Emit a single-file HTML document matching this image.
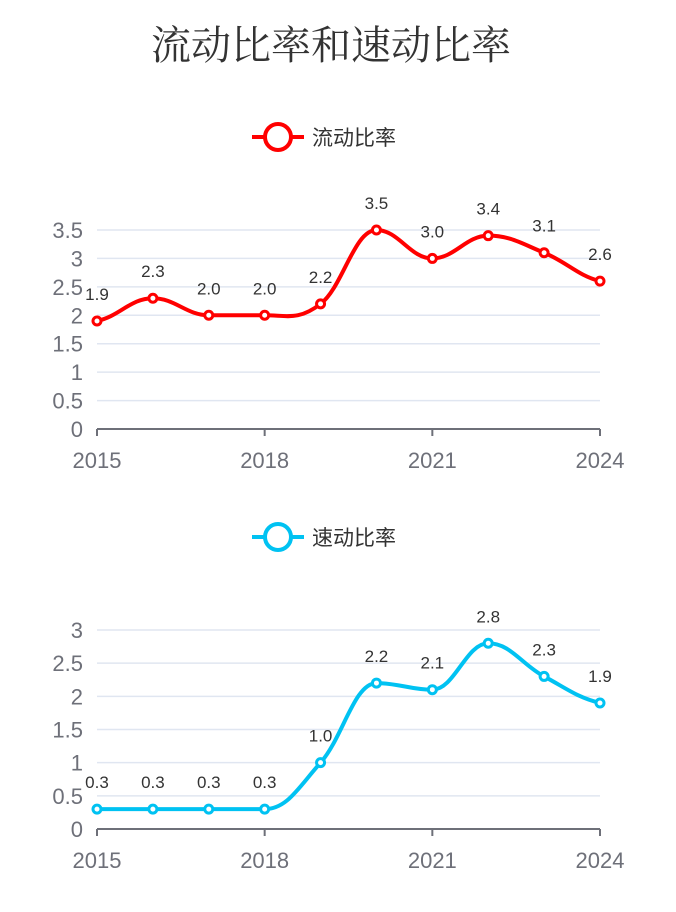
<!DOCTYPE html>
<html><head><meta charset="utf-8"><style>
html,body{margin:0;padding:0;background:#fff;width:676px;height:912px;overflow:hidden}
svg text{font-family:"Liberation Sans","Noto Sans CJK SC",sans-serif}
</style></head><body>
<svg id="c" width="676" height="912" xmlns="http://www.w3.org/2000/svg">
<text x="331" y="59" text-anchor="middle" font-size="40" fill="#333" style="font-family:'Liberation Serif','Noto Serif CJK SC',serif">流动比率和速动比率</text>
</svg>
<script>
const years = [2015,2016,2017,2018,2019,2020,2021,2022,2023,2024];
const currentRatio = [1.9,2.3,2.0,2.0,2.2,3.5,3.0,3.4,3.1,2.6];
const quickRatio = [0.3,0.3,0.3,0.3,1.0,2.2,2.1,2.8,2.3,1.9];
const currentTicks = [0,0.5,1,1.5,2,2.5,3,3.5];
const quickTicks = [0,0.5,1,1.5,2,2.5,3];
const xTickLabels = [2015,2018,2021,2024];

const svg = document.getElementById('c');
const NS = 'http://www.w3.org/2000/svg';
function mk(tag, attrs, parent){
  const e = document.createElementNS(NS, tag);
  for (const k in attrs) e.setAttribute(k, attrs[k]);
  (parent||svg).appendChild(e);
  return e;
}
function panel(opt){
  const g = mk('g', {});
  
  
  const x0=97, x1=600;
  const xs = i => x0 + (x1-x0)*i/(years.length-1);
  const ys = v => opt.y0 - (opt.y0-opt.yTop)*v/opt.max;
  const lg = mk('g', {}, g);
  
  
  mk('line', {x1:252,y1:opt.legY,x2:304,y2:opt.legY,stroke:opt.color,'stroke-width':4}, lg);
  mk('circle', {cx:278,cy:opt.legY,r:13,fill:'#fff',stroke:opt.color,'stroke-width':4}, lg);
  const lt = mk('text', {x:312,y:opt.legY+8,'font-size':21,fill:'#333'}, lg);
  lt.textContent = opt.label;
  opt.ticks.forEach(t=>{
    const y = ys(t);
    if (t>0) {
      const gl = mk('line', {x1:x0,y1:y,x2:x1,y2:y,stroke:'#e0e6f1','stroke-width':1.5}, g);
      
      
    }
    const tx = mk('text', {x:83,y:y+8,'text-anchor':'end','font-size':22,fill:'#6e7079'}, g);
    
    
    tx.textContent = t;
  });
  const ax = mk('line', {x1:x0,y1:opt.y0,x2:x1,y2:opt.y0,stroke:'#6e7079','stroke-width':2}, g);
  
  
  xTickLabels.forEach(yr=>{
    const i = years.indexOf(yr);
    const x = xs(i);
    mk('line', {x1:x,y1:opt.y0,x2:x,y2:opt.y0+7,stroke:'#6e7079','stroke-width':2}, g);
    const tx = mk('text', {x:x,y:opt.y0+39,'text-anchor':'middle','font-size':22,fill:'#6e7079'}, g);
    
    
    tx.textContent = yr;
  });
  const pts = opt.data.map((v,i)=>[xs(i), ys(v)]);
  let d = 'M'+pts[0][0]+','+pts[0][1];
  const s = 0.2;
  for (let i=0;i<pts.length-1;i++){
    const p0 = pts[Math.max(0,i-1)], p1=pts[i], p2=pts[i+1], p3=pts[Math.min(pts.length-1,i+2)];
    let c1y = p1[1]+(p2[1]-p0[1])*s, c2y = p2[1]-(p3[1]-p1[1])*s;
    if ((p1[1]-p0[1])*(p2[1]-p1[1])<=0 && i>0) c1y=p1[1];
    if ((p2[1]-p1[1])*(p3[1]-p2[1])<=0 && i<pts.length-2) c2y=p2[1];
    const c1x = p1[0]+(p2[0]-p1[0])*0.4, c2x = p2[0]-(p2[0]-p1[0])*0.4;
    d += ` C${c1x},${c1y} ${c2x},${c2y} ${p2[0]},${p2[1]}`;
  }
  const path = mk('path', {d:d,fill:'none',stroke:opt.color,'stroke-width':4}, g);
  
  
  pts.forEach((p,i)=>{
    const c = mk('circle', {cx:p[0],cy:p[1],r:4,fill:'#fff',stroke:opt.color,'stroke-width':3}, g);
    
    
    const t = mk('text', {x:p[0],y:p[1]-21,'text-anchor':'middle','font-size':17,fill:'#333'}, g);
    
    
    t.textContent = opt.data[i].toFixed(1);
  });
}
panel({name:'current-ratio-chart',legendName:'legend-current-ratio',seriesName:'current-ratio-line',label:'流动比率',color:'#ff0000',data:currentRatio,ticks:currentTicks,max:3.5,y0:429,yTop:230,legY:137});
panel({name:'quick-ratio-chart',legendName:'legend-quick-ratio',seriesName:'quick-ratio-line',label:'速动比率',color:'#00c2f2',data:quickRatio,ticks:quickTicks,max:3,y0:829,yTop:630,legY:537});
</script>
</body></html>
